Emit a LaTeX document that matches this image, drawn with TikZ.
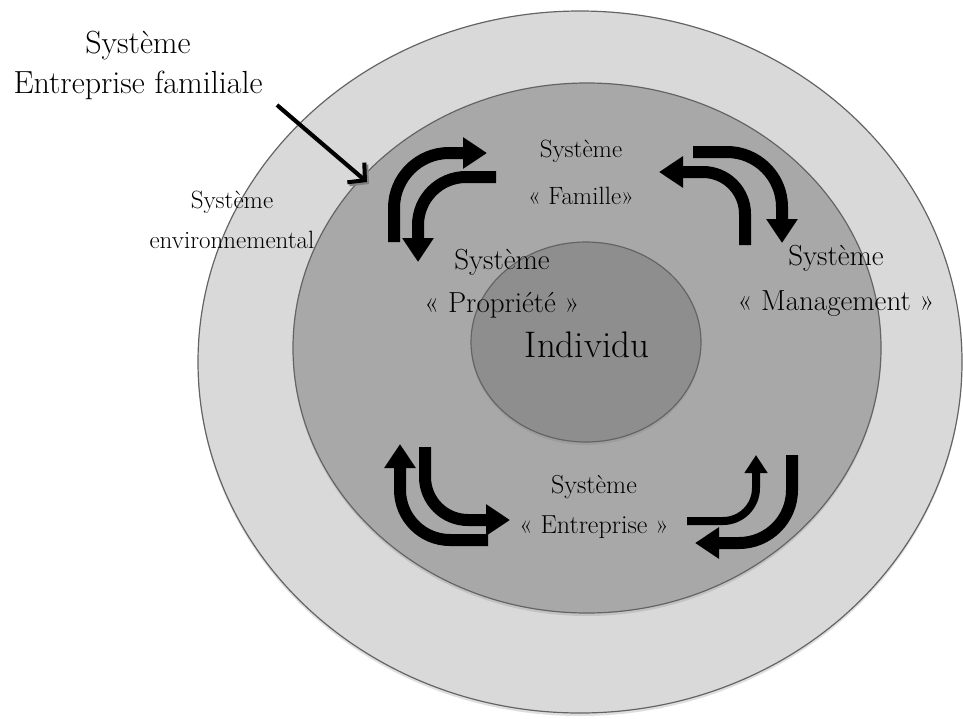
\documentclass[tikz,border=0pt]{standalone}
\usepackage{tikz}
\usetikzlibrary{arrows.meta}
\usetikzlibrary{shadows}

\definecolor{envgray}{RGB}{217,217,217}
\definecolor{sysgray}{RGB}{168,168,168}
\definecolor{indgray}{RGB}{142,142,142}
\definecolor{rimgray}{RGB}{100,100,100}

\tikzset{
  ring/.style={draw=rimgray, line width=1.2pt,
    drop shadow={opacity=0.25, shadow xshift=0pt, shadow yshift=-3pt}},
  flow/.style={line width=12pt, -{Triangle[width=30pt,length=24pt]}},
  thinflow/.style={line width=8pt, -{Triangle[width=22pt,length=18pt]}},
  pointer/.style={line width=4pt, -{Straight Barb[length=12pt,width=26pt]}},
  lab/.style={align=center, inner sep=0pt},
}

\begin{document}
\begin{tikzpicture}[x=1pt, y=-1pt]
  \useasboundingbox (0,0) rectangle (963,718);

  % the three nested systems
  \path[ring, fill=envgray] (580,362) ellipse [x radius=382pt, y radius=351pt];
  \path[ring, fill=sysgray] (587,348) ellipse [x radius=294pt, y radius=265pt];
  \path[ring, fill=indgray] (586,342) ellipse [x radius=115pt, y radius=100pt];

  % exchanges between the subsystems
  \draw[flow] (394,242) -- (394,208) arc[start angle=180, end angle=90, radius=55pt] -- (487,153);
  \draw[flow] (496,177) -- (466,177) arc[start angle=90, end angle=180, radius=48pt] -- (418,262);
  \draw[flow] (693,152) -- (727,152) arc[start angle=90, end angle=0, radius=55pt] -- (782,243);
  \draw[flow] (745,245) -- (745,214) arc[start angle=0, end angle=90, radius=42pt] -- (659,172);
  \draw[flow] (488,540) -- (450,540) arc[start angle=270, end angle=180, radius=50pt] -- (400,444);
  \draw[flow] (425,447) -- (425,477) arc[start angle=180, end angle=270, radius=43pt] -- (510,520);
  \draw[flow] (792,455) -- (792,490) arc[start angle=0, end angle=-90, radius=53pt] -- (695,543);
  \draw[thinflow] (687,521) -- (723,521) arc[start angle=270, end angle=360, radius=33pt] -- (756,455);

  % labels
  \node[lab, font=\fontsize{32}{40}\selectfont] (efam) at (138,65) {Système\\Entreprise familiale};
  \node[lab, font=\fontsize{25}{40}\selectfont] (envi) at (232,220) {Système\\environnemental};
  \node[lab, font=\fontsize{25}{47}\selectfont] (fam) at (581,172) {Système\\« Famille»};
  \node[lab, font=\fontsize{29}{43}\selectfont] (prop) at (502,284) {Système\\« Propriété »};
  \node[lab, font=\fontsize{29}{45}\selectfont] (mgmt) at (836,281) {Système\\« Management »};
  \node[lab, font=\fontsize{37}{40}\selectfont] (ind) at (587,345) {Individu};
  \node[lab, font=\fontsize{26}{40}\selectfont] (entr) at (594,507) {Système\\« Entreprise »};

  % pointer to the family business ring
  \coordinate (ptail) at (277,105);
  \coordinate (ptip) at (367,182);
  \draw[pointer, draw=gray] ([shift={(2,2)}]ptail) -- ([shift={(2,2)}]ptip);
  \draw[pointer] (ptail) -- (ptip);
\end{tikzpicture}
\end{document}
